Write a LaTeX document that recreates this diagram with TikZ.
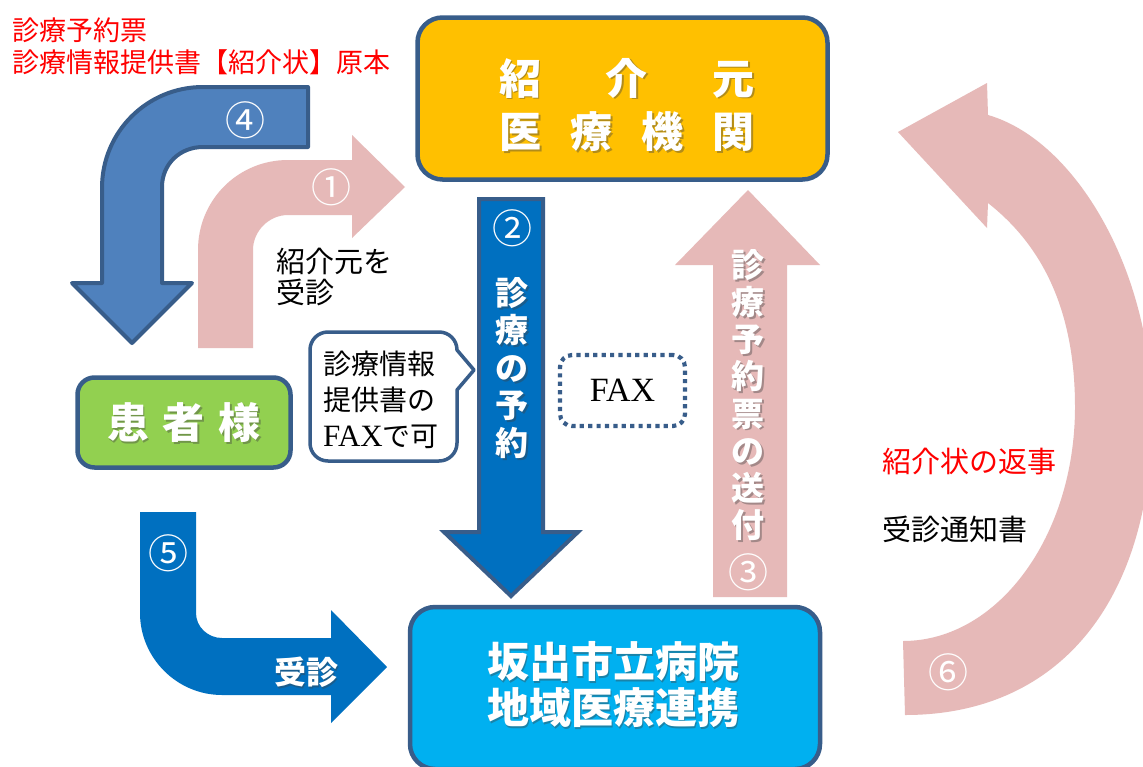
\documentclass[tikz,border=0pt]{standalone}
\usepackage{fontspec}
\setmainfont{Noto Sans CJK JP}
\newfontfamily\lserif{Liberation Serif}
\usetikzlibrary{calc}
\definecolor{pinkA}{HTML}{E6B9B8}
\definecolor{blueD}{HTML}{4F81BD}
\definecolor{edge}{HTML}{385D8A}
\definecolor{blueM}{HTML}{0070C0}
\definecolor{gold}{HTML}{FFC000}
\definecolor{leaf}{HTML}{92D050}
\definecolor{sky}{HTML}{00B0F0}
\newcommand{\wtext}[4]{%
  \node[text=black!75, text opacity=0.4, inner sep=0pt, align=center, font=#3] (#1-sh) at ($(#2)+(1.6,1.8)$) {#4};
  \node[text=white, inner sep=0pt, align=center, font=#3] (#1) at (#2) {#4};}
\tikzset{
  boxstyle/.style={draw=edge, line width=4.5pt, inner sep=0pt},
  plain/.style={inner sep=0pt, align=left},
  circnum/.style={text=white, inner sep=0pt, font=\fontsize{40}{40}\selectfont},
}
\begin{document}
\begin{tikzpicture}[x=1pt,y=-1pt]
\useasboundingbox (0,0) rectangle (1143,766);
\fill[white] (0,0) rectangle (1143,766);

% ---- boxes
\node[boxstyle, fill=gold, rounded corners=25pt, minimum width=410pt, minimum height=162pt] (src) at (622.5,98.5) {};
\node[boxstyle, fill=leaf, rounded corners=17pt, minimum width=213pt, minimum height=90pt] (pat) at (184,422.5) {};
\node[boxstyle, fill=sky, rounded corners=25pt, minimum width=410pt, minimum height=162pt] (hosp) at (615,688) {};

% ---- arrow 4 (blue, bordered)
\filldraw[fill=blueD, draw=edge, line width=4pt, line join=round]
  (308,87) -- (203,87) .. controls (147,87) and (102,132) .. (102,188)
  -- (102,283) -- (72,283) -- (132,343) -- (192,283) -- (162,283)
  -- (162,187) .. controls (162,164) and (180,147) .. (203,147) -- (308,147) -- cycle;

% ---- arrow 1 (pink)
\fill[pinkA]
  (198,348) -- (198,250) .. controls (198,200) and (238,160) .. (288,160)
  -- (352,160) -- (352,135) -- (405,187) -- (352,238) -- (352,215)
  -- (288,215) .. controls (269,215) and (253,231) .. (253,250) -- (253,348) -- cycle;

% ---- arrow 5 (blue)
\fill[blueM]
  (140,512) -- (140,613) .. controls (140,658) and (177,695) .. (222,695)
  -- (331,695) -- (331,723) -- (387,667) -- (331,610) -- (331,638)
  -- (222,638) .. controls (208,638) and (196,627) .. (196,613) -- (196,512) -- cycle;

% ---- arrow 2 (blue, bordered)
\filldraw[fill=blueM, draw=edge, line width=4pt, line join=miter]
  (479,199) -- (543,199) -- (543,532) -- (578,532) -- (511,596) -- (444,532) -- (479,532) -- cycle;

% ---- arrow 3 (pink)
\fill[pinkA]
  (713,597) -- (713,265) -- (675,265) -- (748,190) -- (820,265) -- (787,265) -- (787,597) -- cycle;

% ---- arrow 6 (pink, curved)
\fill[pinkA]
  (903,641) .. controls (998,641) and (1075,536) .. (1075,407)
  .. controls (1075,300) and (1035,240) .. (988,203)
  -- (987,228) -- (898,132) -- (987,83) -- (988,115)
  .. controls (1075,140) and (1152,270) .. (1152,415)
  .. controls (1152,600) and (1060,715) .. (905,715) -- cycle;

% ---- callout
\filldraw[fill=white, draw=edge, line width=3.5pt, line join=round]
  (328,332) -- (439,332) .. controls (449,332) and (457,340) .. (457,350)
  -- (474,370) -- (457,390) -- (457,443) .. controls (457,453) and (449,461) .. (439,461)
  -- (328,461) .. controls (318,461) and (310,453) .. (310,443)
  -- (310,350) .. controls (310,340) and (318,332) .. (328,332) -- cycle;
\node[inner sep=0pt, align=left, font=\fontsize{28}{36}\selectfont] (calltext) at (381,400)
  {診療情報\\提供書の\\{\lserif\fontsize{31}{36}\selectfont FAX}で可};

% ---- FAX dotted box
\node[draw=edge, line width=4.2pt, dash pattern=on 4.2pt off 4.2pt, rounded corners=12pt,
      minimum width=125pt, minimum height=71pt, inner sep=0pt,
      font=\lserif\fontsize{34}{34}\selectfont] (fax) at (622.5,390.5) {FAX};

% ---- plain texts
\node[plain, anchor=west, text=red, font=\fontsize{27}{27}\selectfont] (red1) at (12,30) {診療予約票};
\node[plain, anchor=west, text=red, font=\fontsize{27}{27}\selectfont] (red2) at (12,62) {診療情報提供書【紹介状】原本};
\node[plain, anchor=west, font=\fontsize{29}{31}\selectfont] (visit) at (276,277) {紹介元を\\受診};
\node[plain, anchor=west, text=red, font=\fontsize{29}{29}\selectfont] (reply) at (882,462) {紹介状の返事};
\node[plain, anchor=west, font=\fontsize{29}{29}\selectfont] (notice) at (882,529) {受診通知書};

% ---- white bold texts
\wtext{srcA}{627,78}{\bfseries\fontsize{42}{42}\selectfont}{紹\hspace{65pt}介\hspace{65pt}元}
\wtext{srcB}{627,132}{\bfseries\fontsize{42}{42}\selectfont}{医\hspace{29pt}療\hspace{29pt}機\hspace{29pt}関}
\wtext{patT}{184,423}{\bfseries\fontsize{42}{42}\selectfont}{患\hspace{14pt}者\hspace{14pt}様}
\wtext{hospT}{613,685}{\bfseries\fontsize{42}{46}\selectfont}{坂出市立病院\\地域医療連携}
\wtext{resv}{512,368}{\bfseries\fontsize{33}{37.5}\selectfont}{診\\療\\の\\予\\約}
\wtext{send}{748,395}{\bfseries\fontsize{33}{37.2}\selectfont}{診\\療\\予\\約\\票\\の\\送\\付}
\wtext{visit5}{306,672}{\bfseries\fontsize{32}{32}\selectfont}{受診}

% ---- circled numbers
\node[circnum] (n4) at (245,120) {④};
\node[circnum] (n1) at (331,187) {①};
\node[circnum] (n2) at (512,228) {②};
\node[circnum] (n3) at (748,572) {③};
\node[circnum] (n5) at (168,553) {⑤};
\node[circnum] (n6) at (948,672) {⑥};
\end{tikzpicture}
\end{document}
